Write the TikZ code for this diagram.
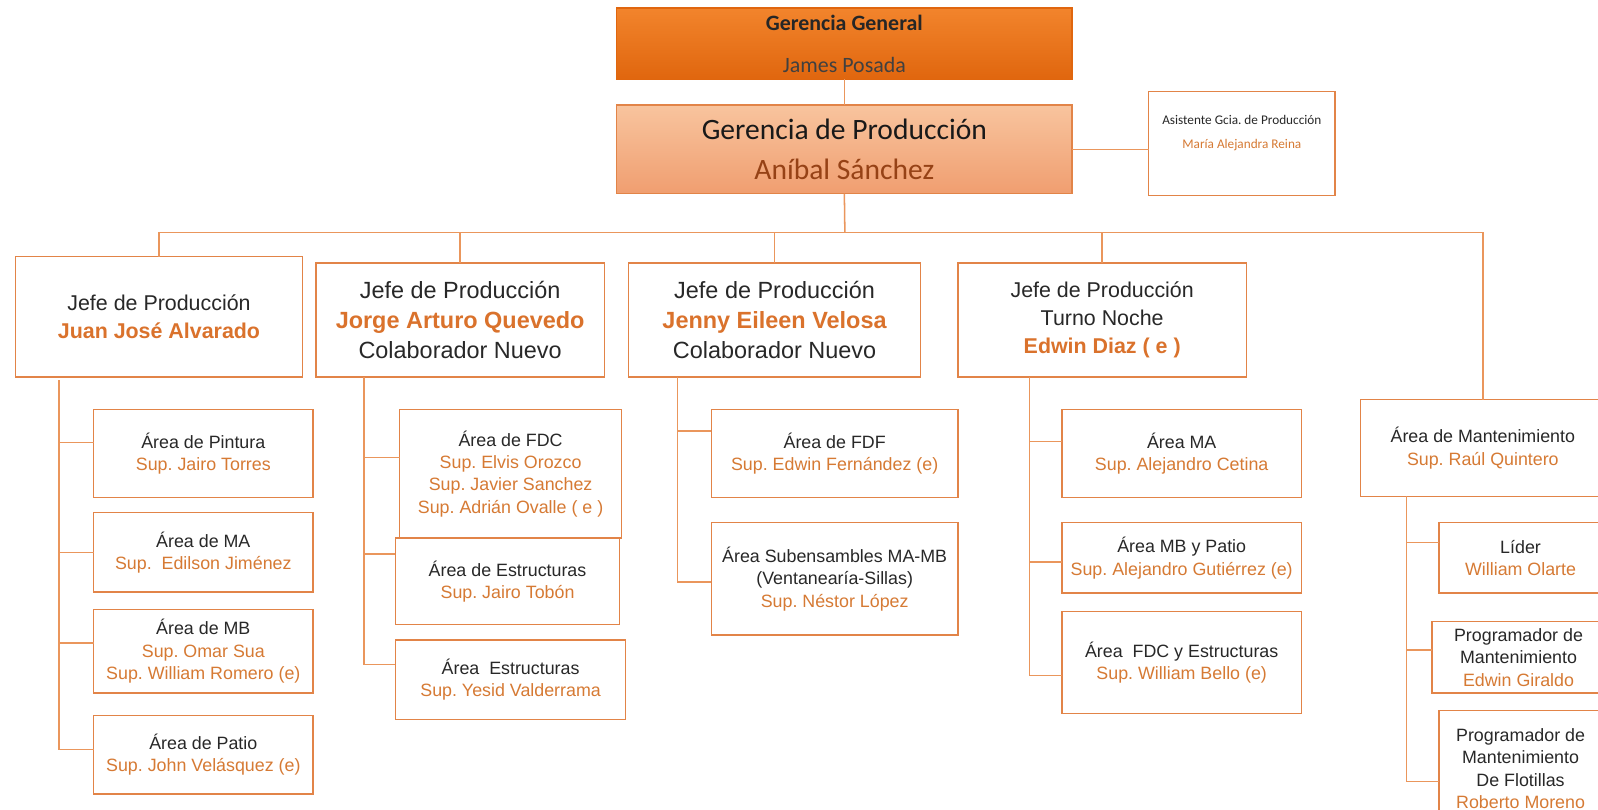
\documentclass[tikz,border=0pt]{standalone}
\usepackage{fontspec}
\setmainfont{Liberation Sans}
\newfontfamily\calib{Carlito}
\frenchspacing
\definecolor{linec}{RGB}{234,150,92}
\definecolor{boxc}{RGB}{226,132,72}
\definecolor{supc}{RGB}{214,122,52}
\definecolor{namec}{RGB}{218,114,44}
\definecolor{textc}{RGB}{40,40,40}
\definecolor{ggtop}{RGB}{242,132,44}
\definecolor{ggbot}{RGB}{224,102,14}
\definecolor{gptop}{RGB}{248,196,158}
\definecolor{gpbot}{RGB}{240,158,112}
\definecolor{brownc}{RGB}{150,66,22}
\newcommand\supn[1]{\textcolor{supc}{#1}}
\newcommand\jname[1]{\textcolor{namec}{\bfseries #1}}
\tikzset{
  box/.style={draw=boxc, line width=1.3pt, fill=white, anchor=north west,
    inner sep=0pt, outer sep=0pt, align=center, text=textc},
  subbox/.style={box, font=\fontsize{17.5}{22}\selectfont},
  jefebox/.style={box, font=\fontsize{21}{27.5}\selectfont},
  jefebig/.style={box, font=\fontsize{23}{29.5}\selectfont},
  link/.style={draw=linec, line width=1.5pt},
}
\begin{document}
\begin{tikzpicture}[x=1pt,y=-1pt]
\useasboundingbox (0,0) rectangle (1568,794);
\clip (0,0) rectangle (1568,794);
\fill[white] (0,0) rectangle (1568,794);

% top management
\node[box, draw=ggbot, top color=ggtop, bottom color=ggbot, minimum width=447, minimum height=70,
  font=\calib\fontsize{21.5}{41}\selectfont, text=black!85] (gg) at (605,8)
  {{\bfseries Gerencia General}\\ \textcolor{black!75}{James Posada}};
\node[box, draw=boxc, top color=gptop, bottom color=gpbot, minimum width=447, minimum height=87,
  font=\calib\fontsize{29}{40}\selectfont, text=black!90] (gp) at (605,103)
  {Gerencia de Producción\\ \textcolor{brownc}{Aníbal Sánchez}};
\node[box, minimum width=183, minimum height=102] (asis) at (1127,90) {};
\node[anchor=north, align=center, inner sep=0pt, text=textc,
  font=\calib\fontsize{13}{23}\selectfont] (asistxt)
  at ([yshift=-23pt]asis.north) {Asistente Gcia. de Producción\\ \supn{María Alejandra Reina}};

% production heads
\node[jefebox, minimum width=282, minimum height=118] (j1) at (15,252)
  {Jefe de Producción\\ \jname{Juan José Alvarado}};
\node[jefebig, minimum width=283, minimum height=112] (j2) at (310,258)
  {Jefe de Producción\\ \jname{Jorge Arturo Quevedo}\\ Colaborador Nuevo};
\node[jefebig, minimum width=286, minimum height=112] (j3) at (617,258)
  {Jefe de Producción\\ \jname{Jenny Eileen Velosa}\\ Colaborador Nuevo};
\node[jefebox, minimum width=283, minimum height=112] (j4) at (940,258)
  {Jefe de Producción\\ Turno Noche\\ \jname{Edwin Diaz ( e )}};
\node[subbox, minimum width=240, minimum height=95] (mant) at (1335,392)
  {Área de Mantenimiento\\ \supn{Sup. Raúl Quintero}};

% column 1
\node[subbox, minimum width=215, minimum height=86] (pint) at (92,402)
  {Área de Pintura\\ \supn{Sup. Jairo Torres}};
\node[subbox, minimum width=215, minimum height=78] (ma1) at (92,503)
  {Área de MA\\ \supn{Sup. \ Edilson Jiménez}};
\node[subbox, minimum width=215, minimum height=82] (mb1) at (92,598)
  {Área de MB\\ \supn{Sup. Omar Sua}\\ \supn{Sup. William Romero (e)}};
\node[subbox, minimum width=215, minimum height=77] (pat) at (92,702)
  {Área de Patio\\ \supn{Sup. John Velásquez (e)}};

% column 2
\node[subbox, minimum width=218, minimum height=126] (fdc2) at (392,402)
  {Área de FDC\\ \supn{Sup. Elvis Orozco}\\ \supn{Sup. Javier Sanchez}\\ \supn{Sup. Adrián Ovalle ( e )}};
\node[subbox, minimum width=220, minimum height=85] (est2) at (388,528)
  {Área de Estructuras\\ \supn{Sup. Jairo Tobón}};
\node[subbox, minimum width=226, minimum height=78] (estb) at (388,628)
  {Área \ Estructuras\\ \supn{Sup. Yesid Valderrama}};

% column 3
\node[subbox, minimum width=242, minimum height=86] (fdf) at (698,402)
  {Área de FDF\\ \supn{Sup. Edwin Fernández (e)}};
\node[subbox, minimum width=242, minimum height=110] (subs) at (698,513)
  {Área Subensambles MA-MB\\ (Ventanearía-Sillas)\\ \supn{Sup. Néstor López}};

% column 4
\node[subbox, minimum width=235, minimum height=86] (ma4) at (1042,402)
  {Área MA\\ \supn{Sup. Alejandro Cetina}};
\node[subbox, minimum width=235, minimum height=69] (mb4) at (1042,513)
  {Área MB y Patio\\ \supn{Sup. Alejandro Gutiérrez (e)}};
\node[subbox, minimum width=235, minimum height=100] (fdc4) at (1042,600)
  {Área \ FDC y Estructuras\\ \supn{Sup. William Bello (e)}};

% maintenance column
\node[subbox, minimum width=160, minimum height=69] (lider) at (1412,513)
  {Líder\\ \supn{William Olarte}};
\node[subbox, minimum width=170, minimum height=70] (prog) at (1405,610)
  {Programador de\\ Mantenimiento\\ \supn{Edwin Giraldo}};
\node[subbox, minimum width=160, minimum height=114] (flot) at (1412,697)
  {Programador de\\ Mantenimiento\\ De Flotillas\\ \supn{Roberto Moreno}};

% spine start points
\coordinate (s1) at (58,373);
\coordinate (s2) at (357,370);
\coordinate (s3) at (665,370);
\coordinate (s4) at (1010,370);
\coordinate (s5) at (1380,487);
\coordinate (bus) at (829,228);

% connectors
\draw[link] (gg) -- (gp);
\draw[link] (gp.east) -- (asis.west |- gp.east);
\draw[link] (gp.south) -- (bus);
\draw[link] (j1.north) |- (bus) -| (mant.north);
\foreach \j in {j2,j3,j4} \draw[link] (bus) -| (\j.north);

\draw[link] (s1) |- ([yshift=11pt]pint.west);
\draw[link] (s1) |- (ma1.west);
\draw[link] (s1) |- ([yshift=8pt]mb1.west);
\draw[link] (s1) |- ([yshift=5pt]pat.west);

\draw[link] (s2) |- ([yshift=16pt]fdc2.west);
\draw[link] (s2) |- ([yshift=27pt]est2.west);
\draw[link] (s2) |- ([yshift=15pt]estb.west);

\draw[link] (s3) |- ([yshift=22pt]fdf.west);
\draw[link] (s3) |- ([yshift=-3pt]subs.west);

\draw[link] (s4) |- ([yshift=12pt]ma4.west);
\draw[link] (s4) |- ([yshift=-4pt]mb4.west);
\draw[link] (s4) |- ([yshift=-13pt]fdc4.west);

\draw[link] (s5) |- ([yshift=15pt]lider.west);
\draw[link] (s5) |- ([yshift=7pt]prog.west);
\draw[link] (s5) |- ([yshift=-13pt]flot.west);
\end{tikzpicture}
\end{document}
